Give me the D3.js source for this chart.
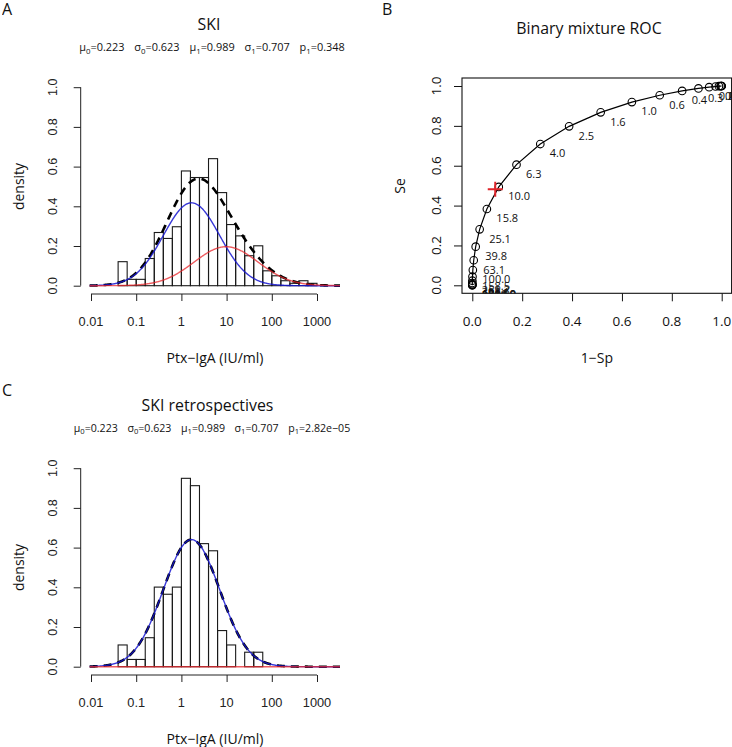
<!DOCTYPE html>
<html><head><meta charset="utf-8">
<script src="https://cdn.jsdelivr.net/npm/d3@7"></script>
<style>body{margin:0;background:#fff} svg{display:block;opacity:0.999}</style>
</head><body>
<svg id="c" width="732" height="747"></svg>
<script>
// ---------- data ----------
const logTicks = [0.01, 0.1, 1, 10, 100, 1000];
const logTickLabels = ["0.01", "0.1", "1", "10", "100", "1000"];
const densityTicks = [0, 0.2, 0.4, 0.6, 0.8, 1.0];
const densityTickLabels = ["0.0", "0.2", "0.4", "0.6", "0.8", "1.0"];
const binEdgesLog10 = [-2.0,-1.8,-1.6,-1.4,-1.2,-1.0,-0.8,-0.6,-0.4,-0.2,0.0,0.2,0.4,0.6,0.8,1.0,1.2,1.4,1.6,1.8,2.0,2.2,2.4,2.6,2.8,3.0];
const skiDensity = [0,0,0,0.121,0.032,0.032,0.137,0.268,0.238,0.297,0.578,0.545,0.545,0.640,0.469,0.308,0.251,0.151,0.201,0.075,0.050,0.025,0.012,0.025,0.012];
const skiRetroDensity = [0,0,0,0.1095,0.0365,0.0365,0.146,0.401,0.365,0.401,0.949,0.912,0.620,0.584,0.182,0.1095,0,0.073,0.073,0,0,0,0,0,0];
const mixtureMu = [0.223, 0.989];
const mixtureSigma = [0.623, 0.707];
const skiP1 = 0.348;
const retroP1 = 2.82e-05;
const skiP1Label = "0.348";
const retroP1Label = "2.82e\u221205";

const rocTicks = [0, 0.2, 0.4, 0.6, 0.8, 1.0];
const rocTickLabels = ["0.0", "0.2", "0.4", "0.6", "0.8", "1.0"];
const rocThresholdLabels = ["0.0","0.0","0.0","0.0","0.1","0.1","0.2","0.3","0.4","0.6","1.0","1.6","2.5","4.0","6.3","10.0","15.8","25.1","39.8","63.1","100.0","158.5","251.2","398.1","631.0","1000.0","1584.9","2511.9"];
const rocFPR = [0.99982,0.99942,0.99828,0.99541,0.98882,0.97518,0.94970,0.90676,0.84134,0.75143,0.63982,0.51472,0.38820,0.27258,0.17722,0.10620,0.05842,0.02944,0.01355,0.00569,0.00217,0.00075,0.00024,0.00007,0.00002,0.00000,0,0];
const rocTPR = [0.99999,0.99996,0.99987,0.99964,0.99902,0.99755,0.99430,0.98771,0.97528,0.95371,0.91910,0.86779,0.79757,0.70884,0.60527,0.49379,0.38285,0.28061,0.19379,0.12569,0.07636,0.04336,0.02297,0.01134,0.00520,0.00222,0.00088,0.00032];
const empiricalPoint = [0.092, 0.482];

// ---------- helpers ----------
const MYR = "'Open Sans','Noto Sans',sans-serif";
const ARI = "'Liberation Sans',Arial,sans-serif";
const svg = d3.select("#c");

function fitWidth(sel, target) {
  const w = sel.node().getBBox().width;
  const fs = parseFloat(sel.attr("font-size"));
  sel.attr("font-size", fs * target / w);
}

function paramsText(g, cx, y, p1Label, targetW) {
  function build(fs) {
    const t = g.append("text").attr("x", cx).attr("y", y).attr("text-anchor", "middle")
      .attr("font-family", MYR).attr("font-size", fs).attr("fill", "#111");
    const items = [["\u03bc","0",mixtureMu[0].toFixed(3)],["\u03c3","0",mixtureSigma[0].toFixed(3)],
                   ["\u03bc","1",mixtureMu[1].toFixed(3)],["\u03c3","1",mixtureSigma[1].toFixed(3)],["p","1",p1Label]];
    items.forEach((it, i) => {
      t.append("tspan").attr("dx", i ? fs * 0.9 : 0).text(it[0]);
      t.append("tspan").attr("font-size", fs * 0.72).attr("dy", fs * 0.28).text(it[1]);
      t.append("tspan").attr("dy", -fs * 0.28).text("=" + it[2]);
    });
    return t;
  }
  let t = build(10);
  const w = t.node().getBBox().width;
  t.remove();
  build(10 * targetW / w);
}

function normPdf(x, m, s) { return Math.exp(-0.5 * ((x - m) / s) ** 2) / (s * Math.sqrt(2 * Math.PI)); }

// ---------- histogram panels ----------
function histPanel(off, dens, p1, title, p1Label, paramW, titleCx, letter) {
  const g = svg.append("g");
  const x = d3.scaleLog().domain([0.01, 1000]).range([91, 317]);
  const y = d3.scaleLinear().domain([0, 1]).range([285.7 + off, 87.2 + off]);
  const clipId = "clip" + letter;
  svg.append("clipPath").attr("id", clipId).append("rect")
    .attr("x", 80.7).attr("y", 79.3 + off).attr("width", 340 - 80.7).attr("height", 294 - 79.3);

  const pg = g.append("g").attr("clip-path", `url(#${clipId})`);
  pg.selectAll("rect.bar").data(dens).enter().append("rect").attr("class", "bar")
    .attr("x", (d, i) => x(10 ** binEdgesLog10[i]))
    .attr("width", (d, i) => x(10 ** binEdgesLog10[i + 1]) - x(10 ** binEdgesLog10[i]))
    .attr("y", d => y(d)).attr("height", d => y(0) - y(d))
    .attr("fill", "none").attr("stroke", "#1a1a1a").attr("stroke-width", 1.1);

  const grid = d3.range(-2.03, 3.55, 0.01);
  const line = d3.line().x(d => x(10 ** d[0])).y(d => y(d[1]));
  const blue = grid.map(L => [L, (1 - p1) * normPdf(L, mixtureMu[0], mixtureSigma[0])]);
  const red = grid.map(L => [L, p1 * normPdf(L, mixtureMu[1], mixtureSigma[1])]);
  const tot = grid.map((L, i) => [L, blue[i][1] + red[i][1]]);
  pg.append("path").attr("d", line(tot)).attr("fill", "none").attr("stroke", "#000")
    .attr("stroke-width", 2.6).attr("stroke-dasharray", "8,6");
  pg.append("path").attr("d", line(blue)).attr("fill", "none").attr("stroke", "#1515d0")
    .attr("stroke-opacity", 0.85).attr("stroke-width", 1.4);
  pg.append("path").attr("d", line(red)).attr("fill", "none").attr("stroke", "#e8262b")
    .attr("stroke-opacity", 0.75).attr("stroke-width", 1.4);

  // y axis
  const yAx = g.append("g").attr("transform", "translate(80.7,0)")
    .call(d3.axisLeft(y).tickValues(densityTicks).tickSize(7).tickPadding(0).tickFormat(""));
  yAx.select(".domain").attr("d", `M-0,${y(0)}V${y(1)}`).attr("stroke", "#222");
  yAx.selectAll(".tick line").attr("stroke", "#222");
  densityTicks.forEach((v, i) => {
    g.append("text").attr("transform", `translate(53,${y(v)}) rotate(-90)`)
      .attr("text-anchor", "middle").attr("dy", "0.35em")
      .attr("font-family", ARI).attr("font-size", 12.5).attr("fill", "#222").text(densityTickLabels[i]);
  });
  // x axis
  const xAx = g.append("g").attr("transform", `translate(0,${294 + off})`)
    .call(d3.axisBottom(x).tickValues(logTicks).tickSize(7).tickFormat(""));
  xAx.select(".domain").attr("d", `M${x(0.01)},0H${x(1000)}`).attr("stroke", "#222");
  xAx.selectAll(".tick line").attr("stroke", "#222");
  logTicks.forEach((v, i) => {
    g.append("text").attr("x", x(v)).attr("y", 321.7 + off).attr("dy", "0.35em")
      .attr("text-anchor", "middle").attr("font-family", ARI).attr("font-size", 12.8)
      .attr("fill", "#222").text(logTickLabels[i]);
  });
  // labels
  const tt = g.append("text").attr("x", titleCx).attr("y", 29.8 + off).attr("text-anchor", "middle")
    .attr("font-family", MYR).attr("font-size", 16.5).attr("fill", "#111").text(title);
  paramsText(g, 212, 50.5 + off, p1Label, paramW);
  g.append("text").attr("transform", `translate(24,${186.5 + off}) rotate(-90)`)
    .attr("text-anchor", "middle").attr("font-family", MYR).attr("font-size", 14).attr("fill", "#111").text("density");
  const xl = g.append("text").attr("x", 215).attr("y", 363 + off).attr("text-anchor", "middle")
    .attr("font-family", MYR).attr("font-size", 14).attr("fill", "#111").text("Ptx\u2212IgA (IU/ml)");
  fitWidth(xl, 97);
  g.append("text").attr("x", 2).attr("y", 15 + off).attr("font-family", MYR).attr("font-size", 16)
    .attr("fill", "#111").text(letter);
  return tt;
}

const tC = histPanel(381, skiRetroDensity, retroP1, "SKI retrospectives", retroP1Label, 277, 207.5, "C");
fitWidth(tC, 132);
const titleFs = parseFloat(tC.attr("font-size"));
const tA = histPanel(0, skiDensity, skiP1, "SKI", skiP1Label, 266, 209, "A");
tA.attr("font-size", titleFs);

// ---------- ROC panel ----------
(function () {
  const g = svg.append("g");
  const x = d3.scaleLinear().domain([0, 1]).range([472.3, 721.7]);
  const y = d3.scaleLinear().domain([0, 1]).range([285.3, 86]);
  const bx0 = 462, bx1 = 731.6, by0 = 78, by1 = 293.3;
  svg.append("clipPath").attr("id", "clipB").append("rect")
    .attr("x", bx0).attr("y", by0).attr("width", bx1 - bx0).attr("height", by1 - by0);
  const pg = g.append("g").attr("clip-path", "url(#clipB)");
  const pts = rocFPR.map((f, i) => ({ fx: f, se: rocTPR[i], lab: rocThresholdLabels[i] }));
  pg.append("path").attr("d", d3.line().x(d => x(d.fx)).y(d => y(d.se))(pts))
    .attr("fill", "none").attr("stroke", "#000").attr("stroke-width", 1.2);
  pg.selectAll("circle").data(pts).enter().append("circle")
    .attr("cx", d => x(d.fx)).attr("cy", d => y(d.se)).attr("r", 3.8)
    .attr("fill", "none").attr("stroke", "#000").attr("stroke-width", 1.1);
  pg.selectAll("text.lab").data(pts).enter().append("text").attr("class", "lab")
    .attr("x", d => x(d.fx) + 9.5).attr("y", d => y(d.se) + 9.5).attr("dy", "0.35em")
    .attr("font-family", MYR).attr("font-size", 11).attr("fill", "#111").text(d => d.lab);
  // red cross
  const cx = x(empiricalPoint[0]), cy = y(empiricalPoint[1]);
  pg.append("path").attr("d", `M${cx - 7.5},${cy}H${cx + 7.5}M${cx},${cy - 7.5}V${cy + 7.5}`)
    .attr("stroke", "#e0242a").attr("stroke-width", 2);
  // box
  g.append("rect").attr("x", bx0).attr("y", by0).attr("width", bx1 - bx0).attr("height", by1 - by0)
    .attr("fill", "none").attr("stroke", "#111").attr("stroke-width", 1.1);
  // axes
  const xAx = g.append("g").attr("transform", `translate(0,${by1})`)
    .call(d3.axisBottom(x).tickValues(rocTicks).tickSize(8).tickFormat(""));
  xAx.select(".domain").remove();
  xAx.selectAll(".tick line").attr("stroke", "#111");
  rocTicks.forEach((v, i) => g.append("text").attr("x", x(v)).attr("y", 321.7).attr("dy", "0.35em")
    .attr("text-anchor", "middle").attr("font-family", MYR).attr("font-size", 13.5).attr("fill", "#111").text(rocTickLabels[i]));
  const yAx = g.append("g").attr("transform", `translate(${bx0},0)`)
    .call(d3.axisLeft(y).tickValues(rocTicks).tickSize(8).tickFormat(""));
  yAx.select(".domain").remove();
  yAx.selectAll(".tick line").attr("stroke", "#111");
  rocTicks.forEach((v, i) => g.append("text").attr("transform", `translate(436,${y(v)}) rotate(-90)`)
    .attr("text-anchor", "middle").attr("dy", "0.35em")
    .attr("font-family", MYR).attr("font-size", 13.5).attr("fill", "#111").text(rocTickLabels[i]));
  g.append("text").attr("x", 589).attr("y", 33.5).attr("text-anchor", "middle")
    .attr("font-family", MYR).attr("font-size", titleFs).attr("fill", "#111").text("Binary mixture ROC");
  g.append("text").attr("transform", "translate(405,186) rotate(-90)").attr("text-anchor", "middle")
    .attr("font-family", MYR).attr("font-size", 14).attr("fill", "#111").text("Se");
  g.append("text").attr("x", 597).attr("y", 363).attr("text-anchor", "middle")
    .attr("font-family", MYR).attr("font-size", 14).attr("fill", "#111").text("1\u2212Sp");
  g.append("text").attr("x", 382).attr("y", 15).attr("font-family", MYR).attr("font-size", 16)
    .attr("fill", "#111").text("B");
})();
</script>
</body></html>
